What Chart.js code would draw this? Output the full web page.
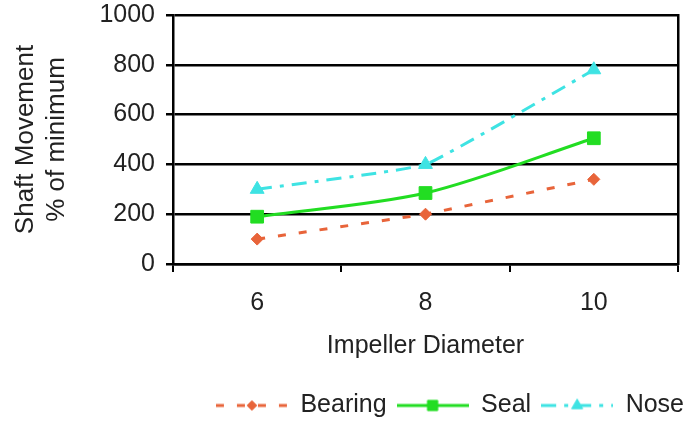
<!DOCTYPE html>
<html>
<head>
<meta charset="utf-8">
<script src="https://cdn.jsdelivr.net/npm/chart.js@4"></script>
<style>
  html, body { margin: 0; padding: 0; background: #fff; }
  #wrap { width: 700px; height: 429px; }
</style>
</head>
<body>
<div id="wrap"><canvas id="shaftChart" width="700" height="429"></canvas></div>
<script>
/* =========================
   DATA
========================= */

const diameters = ["6", "8", "10"];
const bearing = [100, 200, 340];
const seal = [190, 285, 505];
const nose = [300, 400, 780];

const yTicks = { min: 0, max: 1000, step: 200 };

const FONT = "'Liberation Sans', Arial, sans-serif";
const INK = "#222";

const series = [
  { label: "Bearing", data: bearing, color: "#e8643a", dash: [8, 13], marker: "rectRot", radius: 6, tension: 0 },
  { label: "Seal", data: seal, color: "#22dd22", dash: [], marker: "rect", radius: 9, tension: 0.3 },
  { label: "Nose", data: nose, color: "#3ee3e3", dash: [15, 8, 4, 8], marker: "triangle", radius: 8, tension: 0.1 }
];


/* =========================
   LEGEND ICONS (line + marker)
========================= */

const ICON_W = 72;
const ICON_H = 22;

const legendIcons = series.map(s => {
  const c = document.createElement("canvas");
  c.width = ICON_W;
  c.height = ICON_H;
  const ctx = c.getContext("2d");
  const mid = ICON_H / 2;
  ctx.strokeStyle = s.color;
  ctx.lineWidth = 3;
  ctx.setLineDash(s.dash);
  ctx.beginPath();
  ctx.moveTo(0, mid);
  ctx.lineTo(ICON_W, mid);
  ctx.stroke();
  ctx.setLineDash([]);
  ctx.fillStyle = s.color;
  ctx.strokeStyle = s.color;
  ctx.lineWidth = 1;
  Chart.helpers.drawPoint(ctx, { pointStyle: s.marker, radius: s.radius * 0.8, rotation: 0, borderWidth: 1 }, ICON_W / 2, mid);
  return c;
});


/* =========================
   CHART
========================= */

new Chart(document.getElementById("shaftChart"), {
  type: "line",
  data: {
    labels: diameters,
    datasets: series.map(s => ({
      label: s.label,
      data: s.data,
      borderColor: s.color,
      backgroundColor: s.color,
      borderWidth: 3,
      borderDash: s.dash,
      tension: s.tension,
      pointStyle: s.marker,
      pointRadius: s.radius,
      pointBackgroundColor: s.color,
      pointBorderColor: s.color,
      pointBorderWidth: 1,
      fill: false
    }))
  },
  options: {
    responsive: false,
    animation: false,
    layout: { padding: { left: 0, right: 6, top: 15, bottom: 1 } },
    plugins: {
      tooltip: { enabled: false },
      legend: {
        position: "bottom",
        align: "end",
        labels: {
          usePointStyle: true,
          pointStyleWidth: ICON_W,
          padding: 10,
          color: INK,
          font: { family: FONT, size: 25 },
          generateLabels(chart) {
            const items = Chart.defaults.plugins.legend.labels.generateLabels(chart);
            items.forEach((it, i) => { it.pointStyle = legendIcons[i]; });
            return items;
          }
        }
      }
    },
    scales: {
      x: {
        offset: true,
        grid: {
          offset: true,
          drawOnChartArea: false,
          drawTicks: true,
          tickLength: 8,
          color: "#000",
          lineWidth: 2
        },
        border: { display: true, color: "#000", width: 2.5 },
        ticks: { color: INK, padding: 16, font: { family: FONT, size: 25 } },
        title: {
          display: true,
          text: "Impeller Diameter",
          color: INK,
          font: { family: FONT, size: 25 },
          padding: { top: 0, bottom: 22 }
        },
        afterFit(scale) { scale.height = 119; }
      },
      y: {
        min: yTicks.min,
        max: yTicks.max,
        grid: { color: "#000", lineWidth: 2.5, tickLength: 7 },
        border: { display: true, color: "#000", width: 2.5 },
        ticks: {
          stepSize: yTicks.step,
          color: INK,
          padding: 11,
          font: { family: FONT, size: 25 },
          callback: v => String(v)
        },
        title: {
          display: true,
          text: ["Shaft Movement", "% of minimum"],
          color: INK,
          font: { family: FONT, size: 26, lineHeight: 1.2 },
          padding: { top: 10, bottom: 0 }
        },
        afterFit(scale) {
          scale.width = 173;
          scale.paddingTop = 0;
          scale.paddingBottom = 0;
        }
      },
      yRight: {
        position: "right",
        min: yTicks.min,
        max: yTicks.max,
        grid: { display: false },
        ticks: { display: false },
        border: { display: true, color: "#000", width: 2.5 },
        afterFit(scale) { scale.width = 16; }
      }
    }
  }
});
</script>
</body>
</html>
